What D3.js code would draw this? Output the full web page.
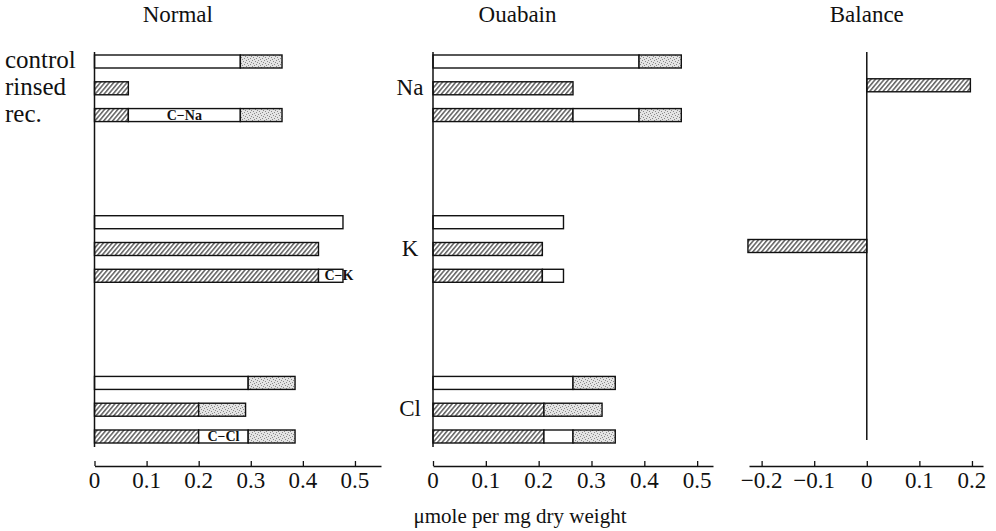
<!DOCTYPE html>
<html>
<head>
<meta charset="utf-8">
<script src="https://cdn.jsdelivr.net/npm/d3@7"></script>
<style>
  html, body { margin: 0; padding: 0; background: #fff; }
  svg text { font-family: "Liberation Serif", "Times New Roman", Times, "DejaVu Serif", serif; }
</style>
</head>
<body>
<script>
// ---------- DATA ----------
const ions = ["Na", "K", "Cl"];
const rowLabels = ["control", "rinsed", "rec."];
const panelTitles = ["Normal", "Ouabain", "Balance"];
const xAxisLabel = "μmole per mg dry weight";

// Normal
const normalControlWhite   = [0.28, 0.477, 0.295];
const normalControlStipple = [0.36, 0.477, 0.385];
const normalRinsedHatch    = [0.065, 0.43, 0.20];
const normalRinsedStipple  = [0.065, 0.43, 0.29];
const normalRecHatch       = [0.065, 0.43, 0.20];
const normalRecWhite       = [0.28, 0.477, 0.295];
const normalRecStipple     = [0.36, 0.477, 0.385];
const normalRecLabels      = ["C−Na", "C−K", "C−Cl"];

// Ouabain
const ouabainControlWhite   = [0.39, 0.247, 0.265];
const ouabainControlStipple = [0.47, 0.247, 0.345];
const ouabainRinsedHatch    = [0.265, 0.207, 0.21];
const ouabainRinsedStipple  = [0.265, 0.207, 0.32];
const ouabainRecHatch       = [0.265, 0.207, 0.21];
const ouabainRecWhite       = [0.39, 0.247, 0.265];
const ouabainRecStipple     = [0.47, 0.247, 0.345];

// Balance (rinsed row)
const balanceValues = [0.197, -0.226, null];

// Ticks
const normalTicks  = [0, 0.1, 0.2, 0.3, 0.4, 0.5];
const ouabainTicks = [0, 0.1, 0.2, 0.3, 0.4, 0.5];
const balanceTicks = [-0.2, -0.1, 0, 0.1, 0.2];

// ---------- LAYOUT ----------
const W = 996, H = 531;
const FONT = "'Liberation Serif', 'Times New Roman', Times, serif";
const svg = d3.select("body").append("svg").attr("width", W).attr("height", H)
  .attr("font-family", FONT);
const defs = svg.append("defs");

// hatch pattern
const hp = defs.append("pattern").attr("id", "hatch").attr("patternUnits", "userSpaceOnUse")
  .attr("width", 3.4).attr("height", 3.4).attr("patternTransform", "rotate(40)");
hp.append("rect").attr("width", 3.4).attr("height", 3.4).attr("fill", "#fff");
hp.append("line").attr("x1", 0.8).attr("y1", 0).attr("x2", 0.8).attr("y2", 3.4)
  .attr("stroke", "#222").attr("stroke-width", 1.1);

// stipple pattern
const sp = defs.append("pattern").attr("id", "stipple").attr("patternUnits", "userSpaceOnUse")
  .attr("width", 6).attr("height", 6);
sp.append("rect").attr("width", 6).attr("height", 6).attr("fill", "#e4e4e4");
[[0,0],[3,1],[1,3],[4,4],[5,2],[2,5]].forEach(([x,y]) =>
  sp.append("rect").attr("x", x).attr("y", y).attr("width", 1).attr("height", 1).attr("fill", "#8a8a8a"));

const axisY = 466;
const rowY = d3.scaleLinear().domain([0, 14]).range([55, 430]);
const barH = 13;
const rowIndex = (g, r) => g * 6 + r;

const xNormal  = d3.scaleLinear().domain([0, 0.55]).range([94.5, 381]);
const xOuabain = d3.scaleLinear().domain([0, 0.53]).range([433, 713]);
const xBalance = d3.scaleLinear().domain([-0.224, 0.221]).range([749, 983]);

const fillFor = { hatch: "url(#hatch)", white: "#fff", stipple: "url(#stipple)" };

function addText(sel) {
  return sel.append("text").attr("font-family", FONT).attr("fill", "#111");
}

function drawBar(g, x, y, segs) {
  segs.forEach(s => {
    const x0 = x(Math.min(s.a, s.b)), x1 = x(Math.max(s.a, s.b));
    if (x1 - x0 < 0.5) return;
    g.append("rect").attr("x", x0).attr("y", y).attr("width", x1 - x0).attr("height", barH)
      .attr("fill", fillFor[s.t]).attr("stroke", "#111").attr("stroke-width", 1.4);
  });
}

function drawPanel(x, d, ticks, title, labels) {
  const g = svg.append("g");
  ions.forEach((ion, i) => {
    const yc = rowY(rowIndex(i, 0));
    drawBar(g, x, yc, [
      { t: "white", a: 0, b: d.cw[i] },
      { t: "stipple", a: d.cw[i], b: d.cs[i] }]);
    const yr = rowY(rowIndex(i, 1));
    drawBar(g, x, yr, [
      { t: "hatch", a: 0, b: d.rh[i] },
      { t: "stipple", a: d.rh[i], b: d.rs[i] }]);
    const ye = rowY(rowIndex(i, 2));
    drawBar(g, x, ye, [
      { t: "hatch", a: 0, b: d.eh[i] },
      { t: "white", a: d.eh[i], b: d.ew[i] },
      { t: "stipple", a: d.ew[i], b: d.es[i] }]);
    if (labels) {
      const wide = x(d.ew[i]) - x(d.eh[i]) > 40;
      addText(g)
        .attr("x", wide ? (x(d.eh[i]) + x(d.ew[i])) / 2 : x(d.eh[i]) + 6)
        .attr("y", ye + barH / 2 + 4.5)
        .attr("text-anchor", wide ? "middle" : "start")
        .attr("font-size", 14).attr("font-weight", "bold")
        .text(labels[i]);
    }
  });
  g.append("line").attr("x1", x(0)).attr("x2", x(0)).attr("y1", 52).attr("y2", 447)
    .attr("stroke", "#111").attr("stroke-width", 1.5);
  drawAxis(x, ticks);
  addText(svg).attr("x", x(0.16)).attr("y", 22)
    .attr("text-anchor", "middle").attr("font-size", 23).text(title);
}

function drawAxis(x, ticks) {
  const ax = svg.append("g").attr("transform", `translate(0,${axisY})`)
    .call(d3.axisTop(x).tickValues(ticks).tickSize(5).tickSizeOuter(0).tickFormat(() => ""));
  ax.select(".domain").attr("stroke", "#111").attr("stroke-width", 1.3);
  ax.selectAll(".tick line").attr("stroke", "#111").attr("stroke-width", 1.3);
  svg.append("g").selectAll("text").data(ticks).join("text")
    .attr("font-family", FONT).attr("fill", "#111")
    .attr("x", d => x(d)).attr("y", axisY + 22)
    .attr("text-anchor", "middle").attr("font-size", 23)
    .text(d => d === 0 ? "0" : d3.format(".1f")(d));
}

drawPanel(xNormal, {
  cw: normalControlWhite, cs: normalControlStipple,
  rh: normalRinsedHatch, rs: normalRinsedStipple,
  eh: normalRecHatch, ew: normalRecWhite, es: normalRecStipple
}, normalTicks, panelTitles[0], normalRecLabels);

drawPanel(xOuabain, {
  cw: ouabainControlWhite, cs: ouabainControlStipple,
  rh: ouabainRinsedHatch, rs: ouabainRinsedStipple,
  eh: ouabainRecHatch, ew: ouabainRecWhite, es: ouabainRecStipple
}, ouabainTicks, panelTitles[1], null);

// Balance panel
const gb = svg.append("g");
balanceValues.forEach((v, i) => {
  if (v === null) return;
  drawBar(gb, xBalance, rowY(rowIndex(i, 1)) - 3, [{ t: "hatch", a: 0, b: v }]);
});
gb.append("line").attr("x1", xBalance(0)).attr("x2", xBalance(0)).attr("y1", 52).attr("y2", 440)
  .attr("stroke", "#111").attr("stroke-width", 1.5);
drawAxis(xBalance, balanceTicks);
addText(svg).attr("x", xBalance(0)).attr("y", 22)
  .attr("text-anchor", "middle").attr("font-size", 23).text(panelTitles[2]);

// Row labels
svg.append("g").selectAll("text").data(rowLabels).join("text")
  .attr("font-family", FONT).attr("fill", "#111")
  .attr("x", 5).attr("y", (d, r) => rowY(rowIndex(0, r)) + barH)
  .attr("font-size", 25).text(d => d);

// Ion labels
svg.append("g").selectAll("text").data(ions).join("text")
  .attr("font-family", FONT).attr("fill", "#111")
  .attr("x", 410).attr("y", (d, i) => rowY(rowIndex(i, 1)) + barH)
  .attr("text-anchor", "middle").attr("font-size", 23).text(d => d);

// X axis label
addText(svg).attr("x", 520).attr("y", 523).attr("text-anchor", "middle")
  .attr("font-size", 21).text(xAxisLabel);
</script>
</body>
</html>
